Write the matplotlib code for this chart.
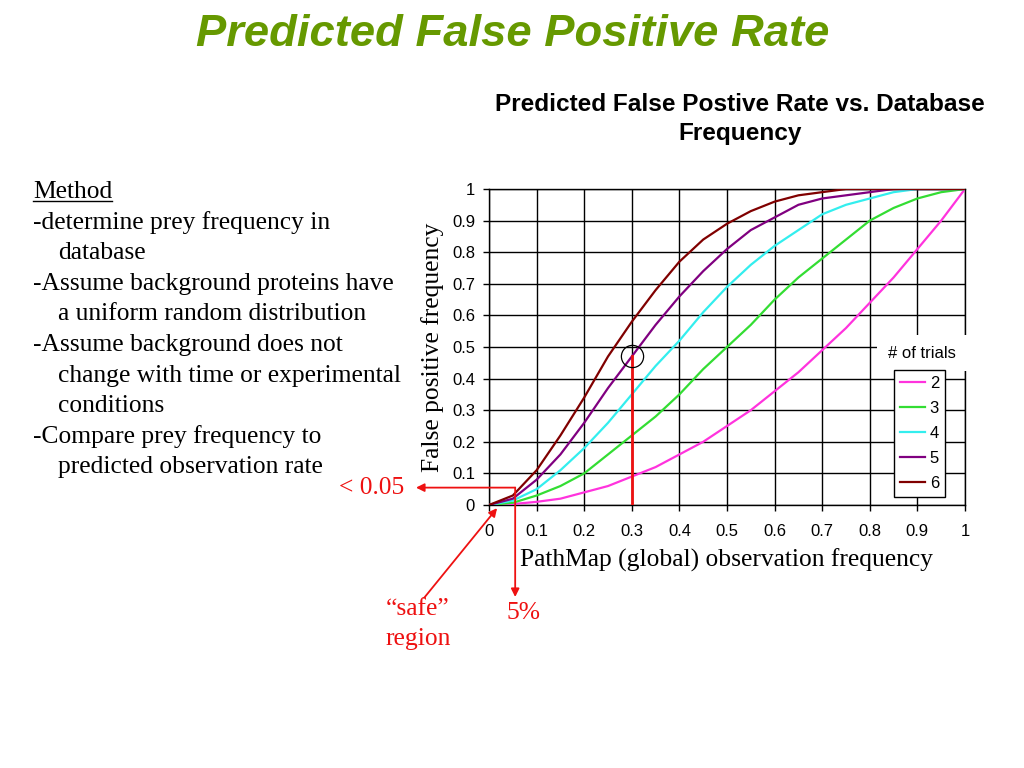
import numpy as np
import matplotlib
matplotlib.use("Agg")
import matplotlib.pyplot as plt

# observation frequency (x) and predicted false positive rate per number of trials
freq = [0.0, 0.05, 0.1, 0.15, 0.2, 0.25, 0.3, 0.35, 0.4, 0.45, 0.5,
        0.55, 0.6, 0.65, 0.7, 0.75, 0.8, 0.85, 0.9, 0.95, 1.0]
fp_2 = [0.0, 0.003, 0.01, 0.02, 0.04, 0.06, 0.09, 0.12, 0.16, 0.2, 0.25,
        0.3, 0.36, 0.42, 0.49, 0.56, 0.64, 0.72, 0.81, 0.9, 1.0]
fp_3 = [0.0, 0.007, 0.03, 0.06, 0.1, 0.16, 0.22, 0.28, 0.35, 0.43, 0.5,
        0.57, 0.65, 0.72, 0.78, 0.84, 0.9, 0.94, 0.97, 0.99, 1.0]
fp_4 = [0.0, 0.014, 0.05, 0.11, 0.18, 0.26, 0.35, 0.44, 0.52, 0.61, 0.69,
        0.76, 0.82, 0.87, 0.92, 0.95, 0.97, 0.99, 1.0, 1.0, 1.0]
fp_5 = [0.0, 0.02, 0.08, 0.16, 0.26, 0.37, 0.47, 0.57, 0.66, 0.74, 0.81,
        0.87, 0.91, 0.95, 0.97, 0.98, 0.99, 1.0, 1.0, 1.0, 1.0]
fp_6 = [0.0, 0.03, 0.11, 0.22, 0.34, 0.47, 0.58, 0.68, 0.77, 0.84, 0.89,
        0.93, 0.96, 0.98, 0.99, 1.0, 1.0, 1.0, 1.0, 1.0, 1.0]
trials = ["2", "3", "4", "5", "6"]
series = [fp_2, fp_3, fp_4, fp_5, fp_6]
colors = ["#ff33dd", "#33dd33", "#33eeee", "#800080", "#800000"]

method_lines = [
    ("Method", 0),
    ("-determine prey frequency in", 0),
    ("database", 1),
    ("-Assume background proteins have", 0),
    ("a uniform random distribution", 1),
    ("-Assume background does not", 0),
    ("change with time or experimental", 1),
    ("conditions", 1),
    ("-Compare prey frequency to", 0),
    ("predicted observation rate", 1),
]

highlight_x = 0.3
highlight_y = fp_5[freq.index(highlight_x)]
corner = (0.055, 0.055)

serif = "Liberation Serif"
sans = "Liberation Sans"
red = "#ee1111"
serif_size = 18.4
tick_size = 12

fig = plt.figure(figsize=(10.24, 7.68), dpi=100)
W, H = 1024, 768

fig.text(513 / W, 1 - 35 / H, "Predicted False Positive Rate", ha="center", va="center",
         fontsize=32.7, fontweight="bold", fontstyle="italic", color="#669900", family=sans)

ax = fig.add_axes([489 / W, 1 - 505 / H, 476 / W, 316 / H])
for lab, vals, c in zip(trials, series, colors):
    ax.plot(freq, vals, color=c, lw=1.6, label=lab, zorder=3)

ax.set_xlim(0, 1)
ax.set_ylim(0, 1)
ticks = np.round(np.arange(0, 1.01, 0.1), 1)
tick_text = ["0" if t == 0 else ("1" if t == 1 else str(t)) for t in ticks]
ax.set_xticks(ticks)
ax.set_yticks(ticks)
ax.set_xticklabels(tick_text)
ax.set_yticklabels(tick_text)
ax.grid(True, color="black", lw=1)
ax.tick_params(length=4, width=1, pad=6, labelsize=tick_size, colors="black")
ax.tick_params(axis="x", pad=9.5)
for lbl in ax.get_xticklabels() + ax.get_yticklabels():
    lbl.set_family(sans)
for s in ax.spines.values():
    s.set_color("black")
    s.set_linewidth(1)

ax.set_title("Predicted False Postive Rate vs. Database\nFrequency", fontsize=17.6,
             fontweight="bold", family=sans, pad=35, x=(740 - 489) / 476, linespacing=1.34)
ax.set_xlabel("PathMap (global) observation frequency", family=serif, fontsize=serif_size, labelpad=7)
ax.set_ylabel("False positive frequency", family=serif, fontsize=serif_size, labelpad=6)

leg = ax.legend(loc="lower right", bbox_to_anchor=(0.958, 0.025), frameon=True, fancybox=False,
                edgecolor="black", framealpha=1, handlelength=1.5, handletextpad=0.3,
                labelspacing=0.6, borderpad=0.35, borderaxespad=0,
                prop={"family": sans, "size": tick_size})
leg.get_frame().set_linewidth(1)
leg.set_zorder(5)
ax.text((922 - 489) / 476, (505 - 353) / 316, "# of trials", transform=ax.transAxes,
        ha="center", va="center", fontsize=tick_size, family=sans, zorder=4.5,
        bbox=dict(boxstyle="square,pad=0.65", fc="white", ec="none"), clip_on=False)

# highlighted point at 0.3
ax.plot([highlight_x, highlight_x], [0, highlight_y], color=red, lw=2, zorder=4)
ax.plot([highlight_x], [highlight_y], marker="o", ms=16, mfc="none", mec="black", mew=0.9, zorder=4)

# red callouts
cx, cy = ax.transData.transform(corner)
arrow = dict(arrowstyle="-|>", color=red, lw=1.3, shrinkA=0, shrinkB=0, mutation_scale=12)
ax.annotate("", xy=(416, cy), xycoords="figure pixels", xytext=corner, textcoords="data",
            arrowprops=arrow, annotation_clip=False)
ax.annotate("", xy=(cx, H - 597), xycoords="figure pixels", xytext=corner, textcoords="data",
            arrowprops=arrow, annotation_clip=False)
ax.annotate("", xy=(0.017, -0.01), xycoords="data", xytext=(424, H - 598), textcoords="figure pixels",
            arrowprops=arrow, annotation_clip=False)
fig.text(372 / W, cy / H, "< 0.05", ha="center", va="center", color=red, family=serif, fontsize=serif_size)
fig.text(524 / W, 1 - 613 / H, "5%", ha="center", va="center", color=red, family=serif, fontsize=serif_size)
fig.text(418 / W, 1 - 624 / H, "\u201csafe\u201d\nregion", ha="center", va="center", color=red,
         family=serif, fontsize=serif_size, linespacing=1.42)

# method text on the left
for i, (line, indent) in enumerate(method_lines):
    t = fig.text((33 + 25 * indent) / W, 1 - (192 + 30.6 * i) / H, line, ha="left", va="center",
                 family=serif, fontsize=serif_size)
    if i == 0:
        fig.canvas.draw()
        bb = t.get_window_extent()
        fig.add_artist(plt.Line2D([bb.x0 / W, bb.x1 / W], [(bb.y0 + 2) / H, (bb.y0 + 2) / H],
                                  color="black", lw=1, transform=fig.transFigure))

fig.savefig("out.png", dpi=100)
